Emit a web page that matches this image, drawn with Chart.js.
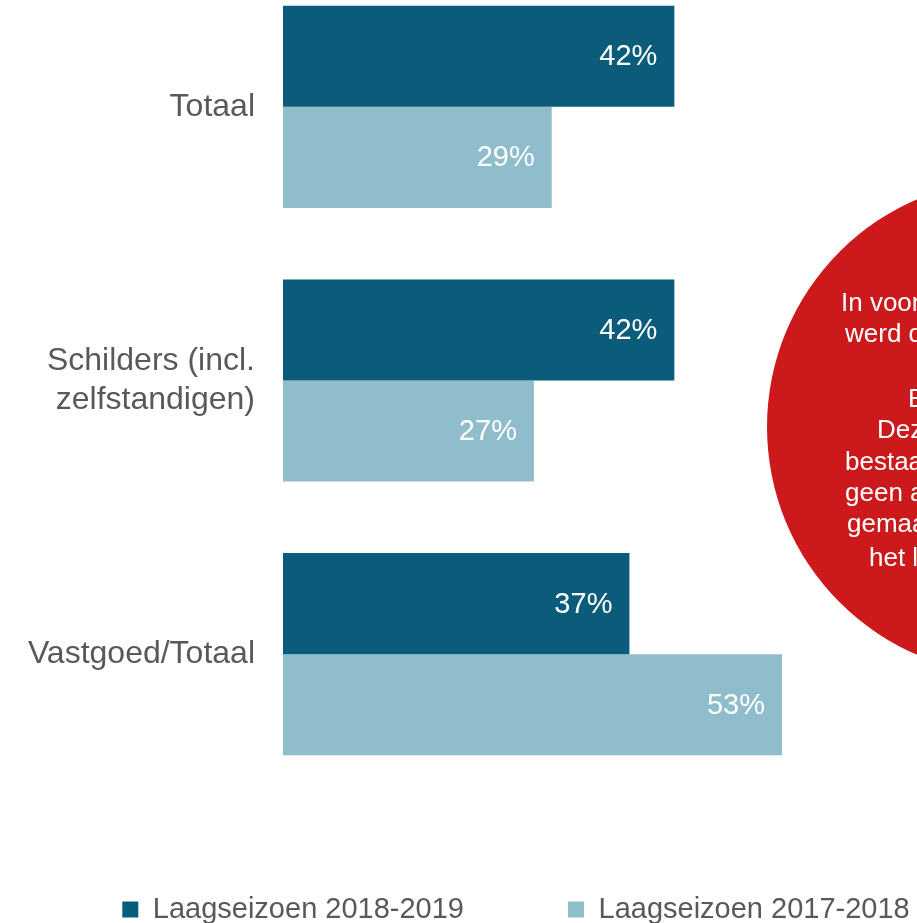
<!DOCTYPE html>
<html>
<head>
<meta charset="utf-8">
<script src="https://cdn.jsdelivr.net/npm/chart.js@4/dist/chart.umd.min.js"></script>
<style>
  html, body { margin: 0; padding: 0; width: 917px; height: 923px; overflow: hidden; background: #ffffff; }
  #wrap { position: absolute; left: 0; top: -30px; width: 1032px; height: 964px; }
</style>
</head>
<body>
<div id="wrap"><canvas id="c" width="1032" height="964"></canvas></div>
<script>
// ---- data ----
const categories = ['Totaal', ['Schilders (incl.', 'zelfstandigen)'], 'Vastgoed/Totaal'];
const seriesNames = ['Laagseizoen 2018-2019', 'Laagseizoen 2017-2018'];
const season2018_2019 = [41.8, 41.8, 37.0];
const season2017_2018 = [28.7, 26.8, 53.3];
const calloutLines = ['In voor', 'werd d', 'B', 'Dez', 'bestaa', 'geen a', 'gemaa', 'het l'];

// ---- styles ----
const FONT = '"Liberation Sans", Arial, Helvetica, sans-serif';
const colorDark = '#0B5C7A';
const colorLight = '#8FBDCB';
const calloutRed = '#CC191C';

const valueLabels = {
  id: 'valueLabels',
  afterDatasetsDraw(chart) {
    const ctx = chart.ctx;
    ctx.save();
    ctx.font = '29px ' + FONT;
    ctx.fillStyle = '#ffffff';
    ctx.textAlign = 'right';
    ctx.textBaseline = 'middle';
    chart.data.datasets.forEach((ds, di) => {
      chart.getDatasetMeta(di).data.forEach((bar, i) => {
        ctx.fillText(Math.round(ds.data[i]) + '%', bar.x - 17, bar.y + 1);
      });
    });
    ctx.restore();
  }
};

const callout = {
  id: 'callout',
  afterDraw(chart) {
    const ctx = chart.ctx;
    ctx.save();
    ctx.fillStyle = calloutRed;
    ctx.beginPath();
    ctx.arc(1015, 457, 248, 0, Math.PI * 2);
    ctx.fill();
    ctx.fillStyle = '#ffffff';
    ctx.font = '26px ' + FONT;
    ctx.textAlign = 'left';
    ctx.textBaseline = 'alphabetic';
    const xs = [841, 845, 908, 877, 845, 845, 847, 869];
    const ys = [311, 342, 407, 438, 470, 501, 532, 566];
    calloutLines.forEach((t, i) => ctx.fillText(t, xs[i], ys[i] + 30));
    ctx.restore();
  }
};

new Chart(document.getElementById('c'), {
  type: 'bar',
  data: {
    labels: categories,
    datasets: [
      { label: seriesNames[0], data: season2018_2019, backgroundColor: colorDark, borderWidth: 0 },
      { label: seriesNames[1], data: season2017_2018, backgroundColor: colorLight, borderWidth: 0 }
    ]
  },
  options: {
    indexAxis: 'y',
    responsive: false,
    animation: false,
    devicePixelRatio: 1,
    layout: { padding: { top: 0, right: 0, bottom: 0, left: 0 } },
    datasets: { bar: { categoryPercentage: 0.739, barPercentage: 1.0 } },
    scales: {
      x: { display: false, min: 0, max: 80 },
      y: {
        grid: { display: false, drawTicks: false },
        border: { display: false },
        ticks: { color: '#595959', font: { family: FONT, size: 32 }, padding: 28 },
        afterFit(scale) { scale.width = 283; scale.paddingTop = 0; scale.paddingBottom = 0; }
      }
    },
    plugins: {
      tooltip: { enabled: false },
      legend: {
        position: 'bottom',
        align: 'center',
        labels: {
          boxWidth: 16, boxHeight: 16, padding: 104,
          color: '#595959',
          font: { family: FONT, size: 29 }
        }
      }
    }
  },
  plugins: [valueLabels, callout]
});
</script>
</body>
</html>
